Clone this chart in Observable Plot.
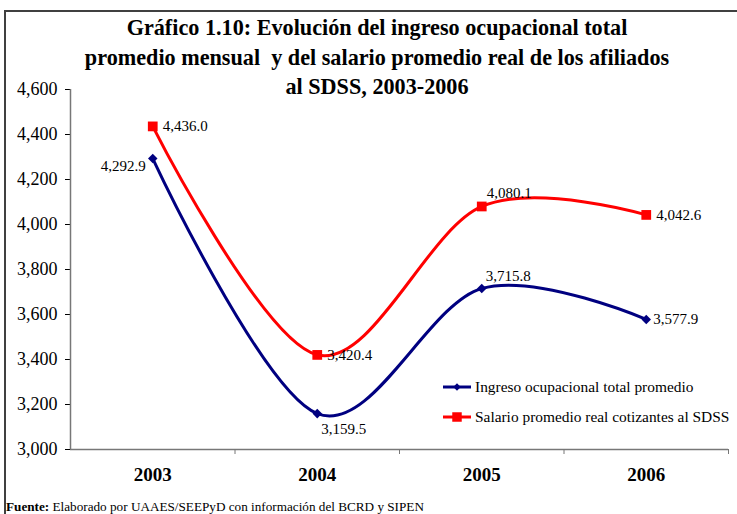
<!DOCTYPE html>
<html>
<head>
<meta charset="utf-8">
<script src="https://cdn.jsdelivr.net/npm/d3@7"></script>
<script src="https://cdn.jsdelivr.net/npm/@observablehq/plot@0.6"></script>
<style>
  html, body { margin: 0; padding: 0; background: #fff; overflow: hidden; }
  body { width: 737px; height: 514px; position: relative; font-family: "Liberation Serif", "Times New Roman", serif; color: #000; }
  #frame { position: absolute; left: 4px; top: 10px; width: 900px; height: 700px; border: 2px solid #404040; box-sizing: border-box; }
  #title { position: absolute; left: 0; width: 754px; top: 13px; text-align: center; font-weight: bold; font-size: 22.2px; line-height: 29.5px; }
  #chart { position: absolute; left: 0; top: 0; }
  #legend { position: absolute; left: 443px; top: 372px; font-size: 15.4px; }
  #legend .row { display: flex; align-items: center; height: 30px; white-space: nowrap; }
  #legend svg { margin-right: 2px; }
  #footer { position: absolute; left: 6px; top: 499px; font-size: 13.2px; white-space: nowrap; }
  #chart svg [aria-label^="x-axis"] text { font-weight: bold; font-size: 19px; }
  #chart svg [aria-label^="y-axis"] text { font-size: 18px; }
</style>
</head>
<body>
<div id="frame"></div>
<div id="title">Gráfico 1.10: Evolución del ingreso ocupacional total<br>promedio mensual&nbsp; y del salario promedio real de los afiliados<br>al SDSS, 2003-2006</div>
<div id="chart"></div>
<div id="legend"></div>
<div id="footer"><b>Fuente:</b> Elaborado por UAAES/SEEPyD con información del BCRD y SIPEN</div>
<script>
// ---- data ----
const years = [2003, 2004, 2005, 2006];
const ingreso = [4292.9, 3159.5, 3715.8, 3577.9];
const salario = [4436.0, 3420.4, 4080.1, 4042.6];
const yTicks = [3000, 3200, 3400, 3600, 3800, 4000, 4200, 4400, 4600];
const seriesNames = ["Ingreso ocupacional total promedio", "Salario promedio real cotizantes al SDSS"];

const blue = "#000080", red = "#FF0000";
const rowsI = years.map((year, i) => ({year, value: ingreso[i]}));
const rowsS = years.map((year, i) => ({year, value: salario[i]}));
const fmt = d3.format(",.1f");
const yMin = yTicks[0], yMax = yTicks[yTicks.length - 1];
const xDomain = [years[0] - 0.5, years[years.length - 1] + 0.5];
const bounds = years.map(y => y + 0.5);
const tickLen = (yMax - yMin) * 5 / 360;

function lbl(rows, i, opts) {
  return Plot.text([rows[i]], {x: "year", y: "value", text: d => fmt(d.value), fontSize: 15, fill: "#000", ...opts});
}

const chart = Plot.plot({
  width: 737, height: 514,
  marginLeft: 70, marginRight: 9, marginTop: 89, marginBottom: 65,
  style: {background: "transparent", fontFamily: "'Liberation Serif', 'Times New Roman', serif", fontSize: "17px", color: "#000"},
  x: {type: "linear", domain: xDomain, ticks: years, tickFormat: d => String(d), tickSize: 0, tickPadding: 18, label: null},
  y: {domain: [yMin, yMax], ticks: yTicks, tickFormat: d3.format(","), tickSize: 5, tickPadding: 8, label: null},
  marks: [
    Plot.ruleY([yMin], {stroke: "#777", strokeWidth: 1.5}),
    Plot.ruleX([xDomain[0]], {y1: yMin, y2: yMax, stroke: "#777", strokeWidth: 1.5}),
    Plot.ruleX(bounds, {x: d => d, y1: yMin, y2: yMin - tickLen, stroke: "#777", strokeWidth: 1}),
    Plot.line(rowsI, {x: "year", y: "value", stroke: blue, strokeWidth: 3, curve: "cardinal"}),
    Plot.line(rowsS, {x: "year", y: "value", stroke: red, strokeWidth: 3, curve: "cardinal"}),
    Plot.dot(rowsI, {x: "year", y: "value", symbol: "diamond2", r: 4.3, fill: blue, stroke: null}),
    Plot.dot(rowsS, {x: "year", y: "value", symbol: "square", r: 5.5, fill: red, stroke: null}),
    lbl(rowsS, 0, {textAnchor: "start", dx: 10}),
    lbl(rowsI, 0, {textAnchor: "end", dx: -7, dy: 8}),
    lbl(rowsS, 1, {textAnchor: "start", dx: 10}),
    lbl(rowsI, 1, {textAnchor: "start", dx: 4, dy: 16}),
    lbl(rowsS, 2, {textAnchor: "start", dx: 5, dy: -13}),
    lbl(rowsI, 2, {textAnchor: "start", dx: 4, dy: -12}),
    lbl(rowsS, 3, {textAnchor: "start", dx: 10}),
    lbl(rowsI, 3, {textAnchor: "start", dx: 7})
  ]
});
document.getElementById("chart").appendChild(chart);

// ---- legend ----
const legend = d3.select("#legend");
const legendItems = [
  {name: seriesNames[0], color: blue, symbol: d3.symbolDiamond2, size: 36},
  {name: seriesNames[1], color: red, symbol: d3.symbolSquare, size: 90}
];
for (const it of legendItems) {
  const row = legend.append("div").attr("class", "row");
  const s = row.append("svg").attr("width", 30).attr("height", 14);
  s.append("line").attr("x1", 0).attr("x2", 28).attr("y1", 7).attr("y2", 7).attr("stroke", it.color).attr("stroke-width", 3);
  s.append("path").attr("transform", "translate(14,7)").attr("d", d3.symbol(it.symbol, it.size)()).attr("fill", it.color);
  row.append("span").text(it.name);
}
</script>
</body>
</html>
